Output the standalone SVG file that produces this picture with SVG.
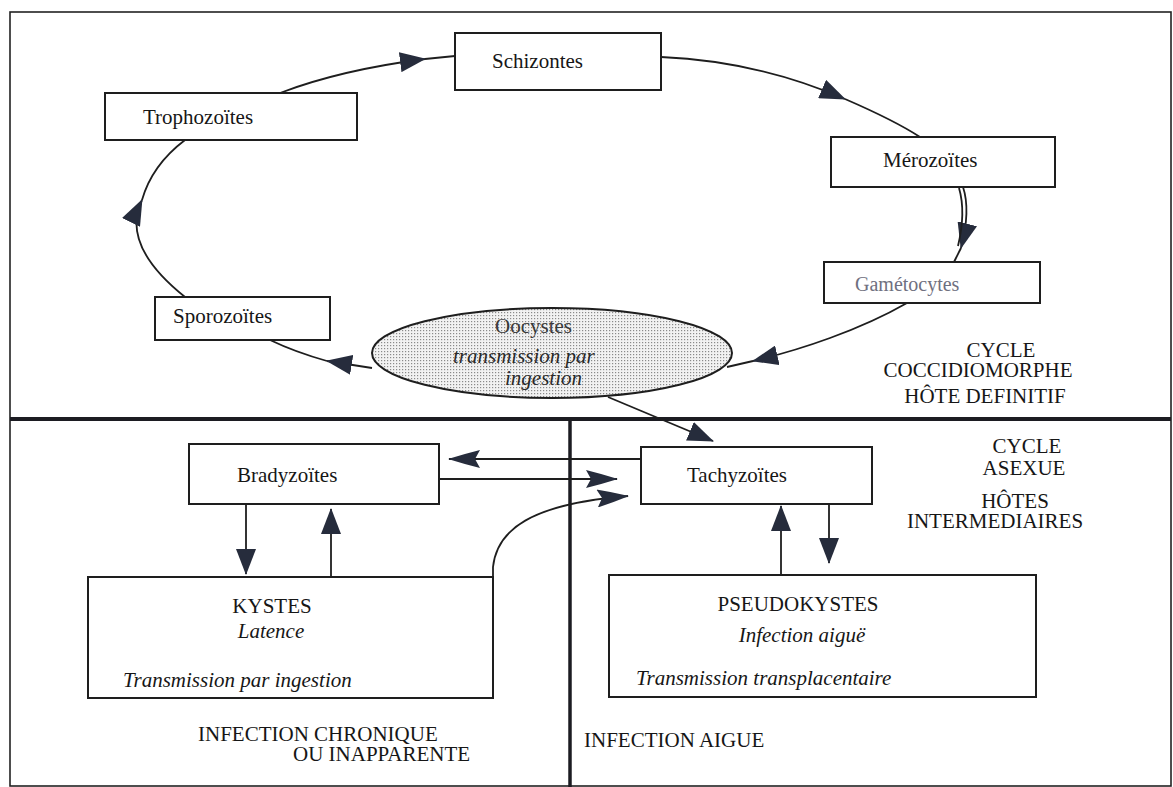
<svg xmlns="http://www.w3.org/2000/svg" width="1173" height="787" viewBox="0 0 1173 787">
<style>
text{font-family:"Liberation Serif","Times New Roman",serif;font-size:21px;fill:#161616}
.it{font-style:italic}
.mid{text-anchor:middle}
.box{fill:#fff;stroke:#1e1e1e;stroke-width:2}
.ln{fill:none;stroke:#1e1e1e;stroke-width:1.8}
.frame{fill:none;stroke:#222;stroke-width:1.6}
.div{stroke:#1c1c22;fill:none}
</style>
<defs>
<marker id="ah" viewBox="0 0 26 20" refX="25" refY="10" markerWidth="26" markerHeight="20" markerUnits="userSpaceOnUse" orient="auto">
<path d="M0,0 L26,10 L0,20 Z" fill="#262c3c"/>
</marker>
<marker id="ahl" viewBox="0 0 32 18" refX="31" refY="9" markerWidth="32" markerHeight="18" markerUnits="userSpaceOnUse" orient="auto">
<path d="M0,0 Q16,4 32,9 Q16,14 0,18 L5,9 Z" fill="#262c3c"/>
</marker>
<pattern id="dots" width="3" height="3" patternUnits="userSpaceOnUse">
<rect width="3" height="3" fill="#f2f2f2"/>
<rect width="1.2" height="1.2" fill="#8a8a8a"/>
</pattern>
</defs>
<rect width="1173" height="787" fill="#fff"/>
<g id="frame">
<rect class="frame" x="10" y="12" width="1161" height="774"/>
<line class="div" x1="10" y1="419" x2="1171" y2="419" stroke-width="4"/>
<line class="div" x1="570" y1="419" x2="570" y2="787" stroke-width="3.5"/>
</g>
<g id="connectors">
<path class="ln" d="M280,93 Q340,70 425,59" marker-end="url(#ah)"/>
<path class="ln" d="M425,59 L455,56"/>
<path class="ln" d="M661,57 C730,60 790,75 845,99" marker-end="url(#ah)"/>
<path class="ln" d="M845,99 C875,112 900,124 920,137"/>
<path class="ln" d="M963,187 C969,205 967,225 961,248" marker-end="url(#ah)"/>
<path class="ln" d="M959,188 C964,205 963,225 958,246" stroke-width="1.2"/>
<path class="ln" d="M961,248 L954,262"/>
<path class="ln" d="M907,303 C860,330 800,350 753,361" marker-end="url(#ah)"/>
<path class="ln" d="M753,361 L727,367"/>
<path class="ln" d="M372,368 L327,361" stroke-width="3.2" marker-end="url(#ah)"/>
<path class="ln" d="M327,361 Q295,352 270,340"/>
<path class="ln" d="M185,297 Q120,245 142,200" marker-end="url(#ah)"/>
<path class="ln" d="M142,200 Q152,165 185,140"/>
<path class="ln" d="M608,397 L713,441" marker-end="url(#ah)"/>
<path class="ln" d="M641,459 L449,459" marker-end="url(#ahl)"/>
<path class="ln" d="M439,479 L617,479" marker-end="url(#ahl)"/>
<path class="ln" d="M493,577 L493,567 C497,530 530,504 628,496" stroke-width="2.2" marker-end="url(#ahl)"/>
<path class="ln" d="M246,504 L246,574" marker-end="url(#ah)"/>
<path class="ln" d="M331,577 L331,509" marker-end="url(#ah)"/>
<path class="ln" d="M781,575 L781,506" marker-end="url(#ah)"/>
<path class="ln" d="M829,504 L829,563" marker-end="url(#ah)"/>
</g>
<g id="schizontes">
<rect class="box" x="455" y="33" width="206" height="57"/>
<text x="492" y="68">Schizontes</text>
</g>
<g id="trophozoites">
<rect class="box" x="105" y="93" width="252" height="47"/>
<text x="143" y="124">Trophozoïtes</text>
</g>
<g id="merozoites">
<rect class="box" x="831" y="137" width="224" height="50"/>
<text x="883" y="167">Mérozoïtes</text>
</g>
<g id="gametocytes">
<rect class="box" x="824" y="262" width="216" height="41"/>
<text x="855" y="291" style="font-size:20px;fill:#6f7080">Gamétocytes</text>
</g>
<g id="sporozoites">
<rect class="box" x="155" y="297" width="175" height="43"/>
<text x="173" y="323">Sporozoïtes</text>
</g>
<g id="oocystes">
<ellipse cx="552" cy="353" rx="180" ry="45" fill="url(#dots)" stroke="#1e1e1e" stroke-width="2"/>
<text x="495" y="333" style="fill:#3a3a3a">Oocystes</text>
<text class="it" x="453" y="363" style="fill:#2a2a2a">transmission par</text>
<text class="it" x="505" y="385" style="fill:#2a2a2a">ingestion</text>
</g>
<g id="label-coccidiomorphe">
<text class="mid" x="1001" y="357">CYCLE</text>
<text class="mid" x="978" y="377">COCCIDIOMORPHE</text>
<text class="mid" x="985" y="403">HÔTE DEFINITIF</text>
</g>
<g id="bradyzoites">
<rect class="box" x="189" y="444" width="250" height="60"/>
<text x="237" y="482">Bradyzoïtes</text>
</g>
<g id="tachyzoites">
<rect class="box" x="641" y="447" width="231" height="57"/>
<text x="687" y="482">Tachyzoïtes</text>
</g>
<g id="label-asexue">
<text class="mid" x="1027" y="453">CYCLE</text>
<text class="mid" x="1024" y="475">ASEXUE</text>
<text class="mid" x="1015" y="508">HÔTES</text>
<text class="mid" x="995" y="528">INTERMEDIAIRES</text>
</g>
<g id="kystes">
<rect class="box" x="88" y="577" width="405" height="121"/>
<text class="mid" x="272" y="613">KYSTES</text>
<text class="it mid" x="271" y="638">Latence</text>
<text class="it" x="123" y="687">Transmission par ingestion</text>
</g>
<g id="pseudokystes">
<rect class="box" x="609" y="575" width="427" height="122"/>
<text class="mid" x="798" y="611">PSEUDOKYSTES</text>
<text class="it mid" x="802" y="642">Infection aiguë</text>
<text class="it" x="636" y="685">Transmission transplacentaire</text>
</g>
<g id="label-chronique">
<text x="198" y="741">INFECTION CHRONIQUE</text>
<text x="293" y="761">OU INAPPARENTE</text>
</g>
<g id="label-aigue">
<text x="584" y="747">INFECTION AIGUE</text>
</g>
</svg>
